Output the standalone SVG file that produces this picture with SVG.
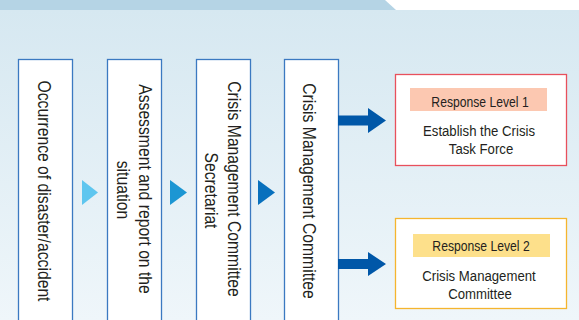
<svg xmlns="http://www.w3.org/2000/svg" width="579" height="320" viewBox="0 0 579 320">
<defs>
<linearGradient id="bg" x1="0" y1="0" x2="0" y2="1">
<stop offset="0" stop-color="#d6e8f1"/>
<stop offset="1" stop-color="#eff6fa"/>
</linearGradient>
<style>
.box{fill:#ffffff;stroke:#3b79c1;stroke-width:1.3}
.vt{font-family:"Liberation Sans",Arial,sans-serif;font-size:18.5px;fill:#231f20;text-anchor:middle}
.ht{font-family:"Liberation Sans",Arial,sans-serif;font-size:15.5px;fill:#231f20;text-anchor:middle}
.lt{font-family:"Liberation Sans",Arial,sans-serif;font-size:14.3px;fill:#231f20;text-anchor:middle}
.big{fill:#0057a8}
</style>
</defs>
<rect x="0" y="0" width="579" height="320" fill="#ffffff"/>
<rect x="0" y="10" width="579" height="310" fill="url(#bg)"/>
<polygon points="0,0 385,0 396,10 0,10" fill="#b5d4e5"/>

<g id="node-occurrence">
<rect class="box" x="18.5" y="59.5" width="54" height="270"/>
<text class="vt" transform="translate(38,191) rotate(90) scale(0.85,1)">Occurrence of disaster/accident</text>
</g>
<g id="node-assessment">
<rect class="box" x="107.5" y="59.5" width="54" height="270"/>
<text class="vt" transform="translate(138.5,189) rotate(90) scale(0.85,1)">Assessment and report on the</text>
<text class="vt" transform="translate(117,190) rotate(90) scale(0.85,1)">situation</text>
</g>
<g id="node-secretariat">
<rect class="box" x="196.5" y="59.5" width="54" height="270"/>
<text class="vt" transform="translate(228,189) rotate(90) scale(0.85,1)">Crisis Management Committee</text>
<text class="vt" transform="translate(204.5,190.5) rotate(90) scale(0.85,1)">Secretariat</text>
</g>
<g id="node-committee">
<rect class="box" x="284.5" y="59.5" width="54" height="270"/>
<text class="vt" transform="translate(303,191) rotate(90) scale(0.85,1)">Crisis Management Committee</text>
</g>

<g id="node-level1">
<rect x="395.5" y="74.5" width="171" height="91" fill="#ffffff" stroke="#e8505c" stroke-width="1.3"/>
<rect x="410" y="88" width="137" height="23" fill="#fcc8b1"/>
<text class="lt" transform="translate(480,106.5) scale(0.85,1)">Response Level 1</text>
<text class="ht" transform="translate(479,136) scale(0.85,1)">Establish the Crisis</text>
<text class="ht" transform="translate(481,154) scale(0.85,1)">Task Force</text>
</g>
<g id="node-level2">
<rect x="395.5" y="218.5" width="171" height="90" fill="#ffffff" stroke="#f5b52e" stroke-width="1.3"/>
<rect x="413" y="234" width="137" height="23" fill="#fde08b"/>
<text class="lt" transform="translate(481,251) scale(0.85,1)">Response Level 2</text>
<text class="ht" transform="translate(479,281) scale(0.85,1)">Crisis Management</text>
<text class="ht" transform="translate(480,299) scale(0.85,1)">Committee</text>
</g>

<g id="connectors">
<polygon points="82,180 82,205 98,192.5" fill="#5ec6ef"/>
<polygon points="170,180 170,205 187,192.5" fill="#1c96d3"/>
<polygon points="258,180 258,205 275,192.5" fill="#0870bd"/>
<path class="big" d="M338,115.5 H368 V108 L386,120.5 L368,133 V125.5 H338 Z"/>
<path class="big" d="M338,259 H368 V252 L386,264 L368,276 V269 H338 Z"/>
</g>
</svg>
